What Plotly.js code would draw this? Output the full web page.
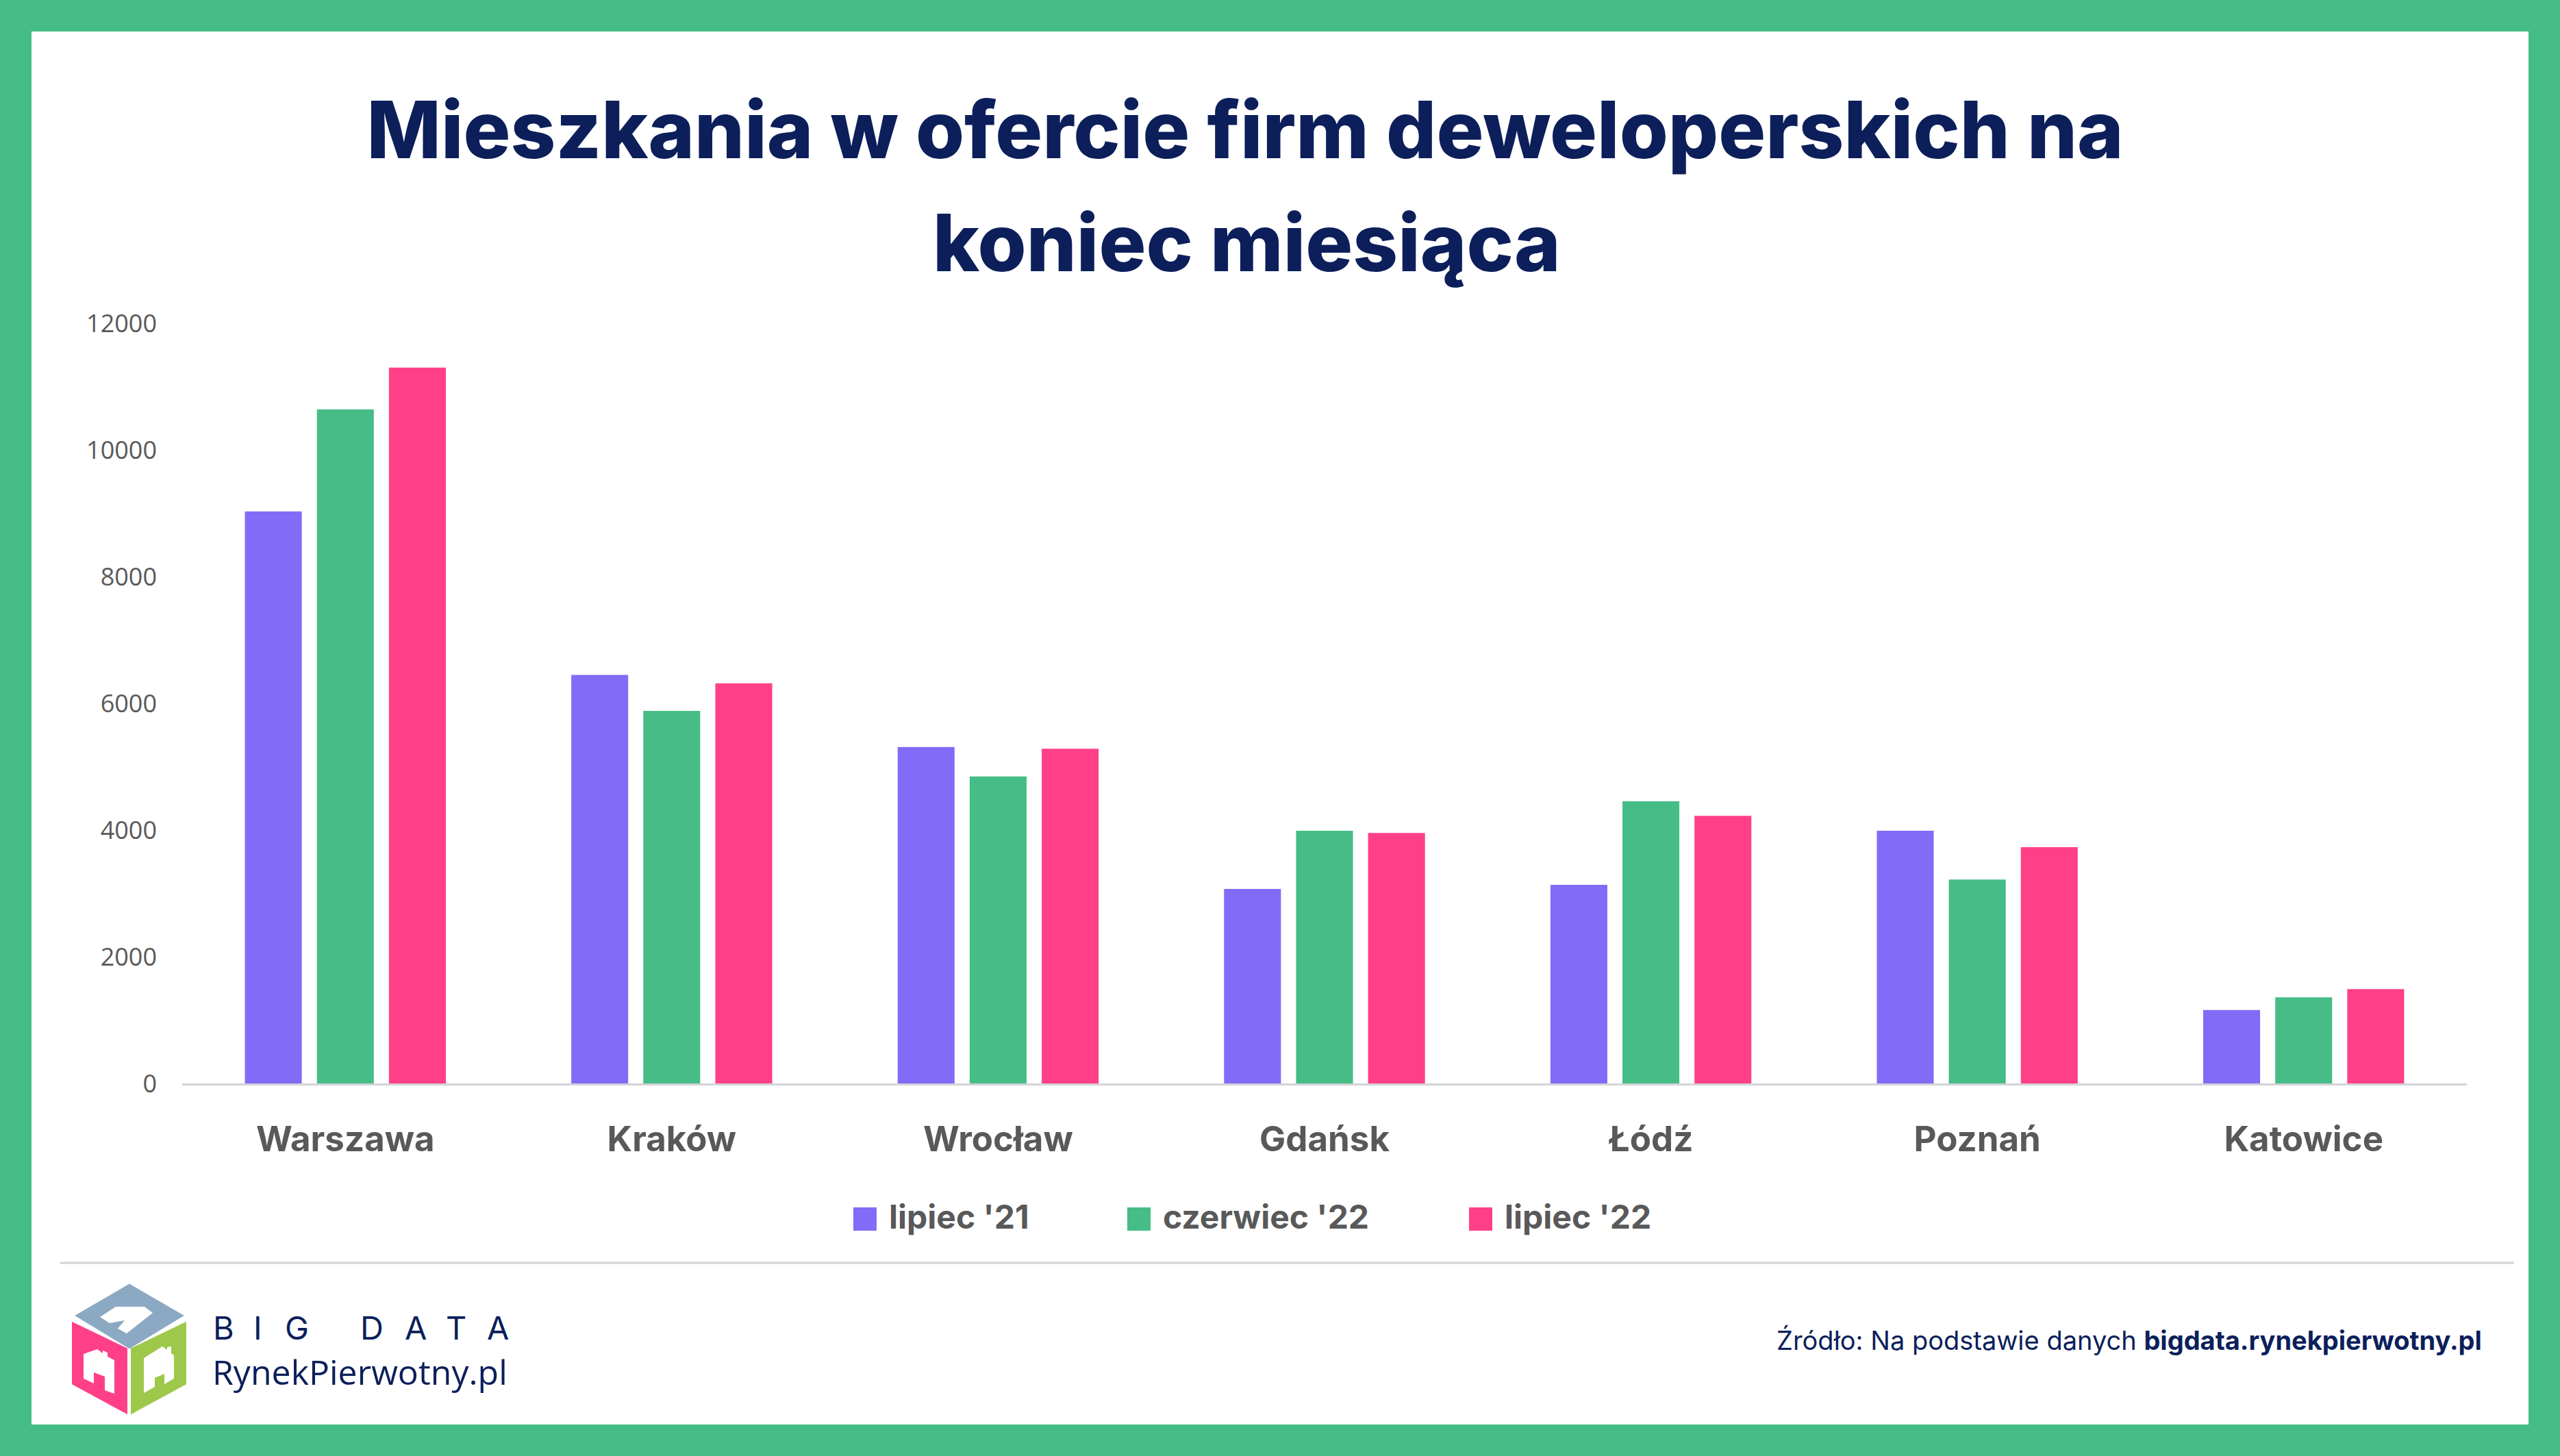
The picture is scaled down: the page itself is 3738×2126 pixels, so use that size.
<!DOCTYPE html>
<html>
<head>
<meta charset="utf-8">
<script src="https://cdn.plot.ly/plotly-3.0.1.min.js"></script>
<style>html,body{margin:0;padding:0;background:#46BD86;}#chart{width:3738px;height:2126px;}</style>
</head>
<body>
<div id="chart"></div>
<script>
// ---- data ----
const categories = ['Warszawa', 'Kraków', 'Wrocław', 'Gdańsk', 'Łódź', 'Poznań', 'Katowice'];
const seriesNames = ["lipiec '21", "czerwiec '22", "lipiec '22"];
const lipiec21 = [9030, 6450, 5310, 3070, 3135, 3990, 1160];
const czerwiec22 = [10640, 5880, 4845, 3990, 4455, 3220, 1360];
const lipiec22 = [11300, 6315, 5285, 3955, 4225, 3730, 1490];
const yTickValues = [0, 2000, 4000, 6000, 8000, 10000, 12000];
const titleLines = ['Mieszkania w ofercie firm deweloperskich na', 'koniec miesiąca'];
const sourceRegular = 'Źródło: Na podstawie danych ';
const sourceBold = 'bigdata.rynekpierwotny.pl';
const brandTop = 'BIG DATA';
const brandBottom = 'RynekPierwotny.pl';

// ---- styling / geometry ----
const colors = ['#826BF7', '#46BD86', '#FF4088'];
const navy = '#0C1F5B';
const grey = '#595959';
const W = 3738, H = 2126, ML = 266, MR = 136, MT = 472, MB = 544;
const PW = W - ML - MR, PH = H - MT - MB;
const px = x => (x - ML) / PW;
const py = y => (H - MB - y) / PH;
const pt = (x, y) => px(x).toFixed(5) + ',' + py(y).toFixed(5);
const poly = pts => 'M' + pts.map(p => pt(p[0], p[1])).join('L') + 'Z';

const seriesValues = [lipiec21, czerwiec22, lipiec22];
const traces = seriesValues.map((vals, i) => ({
  type: 'bar', x: categories, y: vals, name: seriesNames[i],
  marker: {color: colors[i]}, showlegend: false, hoverinfo: 'x+y+name'
}));

const shapes = [];
const annotations = [];

// white card inside green frame
shapes.push({type: 'rect', xref: 'paper', yref: 'paper', layer: 'below',
  x0: px(46), x1: px(3692), y0: py(2080), y1: py(46), fillcolor: '#FFFFFF', line: {width: 0}});
// separator line
shapes.push({type: 'line', xref: 'paper', yref: 'paper', x0: px(88), x1: px(3671), y0: py(1844), y1: py(1844),
  line: {color: '#D3D3D8', width: 3}});

// legend (custom, larger squares)
const legMarkX = [1246, 1646, 2145];
seriesNames.forEach((n, i) => {
  shapes.push({type: 'rect', xref: 'paper', yref: 'paper', x0: px(legMarkX[i]), x1: px(legMarkX[i] + 34),
    y0: py(1797), y1: py(1763), fillcolor: colors[i], line: {width: 0}});
  annotations.push({xref: 'paper', yref: 'paper', x: px(legMarkX[i] + 50), y: py(1776), xanchor: 'left', yanchor: 'middle',
    showarrow: false, text: n, font: {family: 'Inter', size: 48, color: grey, weight: 700}});
});

// title second line
annotations.push({xref: 'paper', yref: 'paper', x: px(1820), y: py(355), xanchor: 'center', yanchor: 'middle',
  showarrow: false, text: titleLines[1], font: {family: 'Inter', size: 115, color: navy, weight: 800}});

// source
annotations.push({xref: 'paper', yref: 'paper', x: px(3626), y: py(1957), xanchor: 'right', yanchor: 'middle',
  showarrow: false, text: sourceRegular + '<b>' + sourceBold + '</b>',
  font: {family: 'Inter', size: 38, color: navy}});

// brand text
const brandLetterX = [326, 376, 433, null, 543, 607, 666, 727];
brandTop.split('').forEach((ch, i) => {
  if (ch === ' ') return;
  annotations.push({xref: 'paper', yref: 'paper', x: px(brandLetterX[i]), y: py(1938), xanchor: 'center', yanchor: 'middle',
    showarrow: false, text: ch, font: {family: 'Inter', size: 47, color: navy, weight: 400}});
});
annotations.push({xref: 'paper', yref: 'paper', x: px(308), y: py(2003), xanchor: 'left', yanchor: 'middle',
  showarrow: false, text: brandBottom, font: {family: 'Open Sans', size: 50, color: navy}});

// logo cube
shapes.push({type: 'path', xref: 'paper', yref: 'paper', path: poly([[189,1878],[263,1921],[189,1966],[115,1921]]),
  fillcolor: '#8BA9C2', line: {color: '#8BA9C2', width: 6}});
shapes.push({type: 'path', xref: 'paper', yref: 'paper', path: poly([[107,1933],[184,1970],[184,2062],[107,2020]]),
  fillcolor: '#FF4088', line: {color: '#FF4088', width: 4}});
shapes.push({type: 'path', xref: 'paper', yref: 'paper', path: poly([[193,1970],[270,1933],[270,2020],[193,2062]]),
  fillcolor: '#9DC84A', line: {color: '#9DC84A', width: 4}});
// house cut-outs
shapes.push({type: 'path', xref: 'paper', yref: 'paper',
  path: poly([[146,1923],[169,1908],[211,1908],[223,1917],[185,1947],[172,1940],[182,1928],[160,1932]]),
  fillcolor: '#FFFFFF', line: {width: 0}});
shapes.push({type: 'path', xref: 'paper', yref: 'paper',
  path: poly([[122,1977],[142,1970],[150,1976],[150,1972],[157,1975],[157,1981],[167,1986],[167,2035],[153,2030],[153,2010],[137,2004],[137,2020],[122,2013]]),
  fillcolor: '#FFFFFF', line: {width: 0}});
shapes.push({type: 'path', xref: 'paper', yref: 'paper',
  path: poly([[210,1983],[237,1966],[244,1971],[244,1967],[250,1966],[250,1976],[254,1979],[254,2013],[240,2021],[240,2006],[226,2012],[226,2025],[210,2034]]),
  fillcolor: '#FFFFFF', line: {width: 0}});

const layout = {
  width: W, height: H,
  margin: {l: ML, r: MR, t: MT, b: MB, pad: 0},
  paper_bgcolor: '#46BD86',
  plot_bgcolor: 'rgba(0,0,0,0)',
  title: {text: titleLines[0], xref: 'container', yref: 'container', x: 1818 / W, xanchor: 'center',
    y: 1 - 191 / H, yanchor: 'middle', font: {family: 'Inter', size: 115, color: navy, weight: 800}},
  barmode: 'group', bargap: 0.338, bargroupgap: 0.21,
  showlegend: false,
  xaxis: {type: 'category', showline: true, linecolor: '#D3D3D8', linewidth: 3, showgrid: false, zeroline: false,
    ticks: '', ticklabelstandoff: 35, tickfont: {family: 'Inter', size: 51, color: grey, weight: 700}},
  yaxis: {range: [0, 12000], tickvals: yTickValues, ticktext: yTickValues.map(String), showgrid: false, zeroline: false,
    showline: false, ticks: '', ticklabelstandoff: 36, tickfont: {family: 'Open Sans', size: 36, color: grey}},
  shapes: shapes,
  annotations: annotations,
  font: {family: 'Inter'}
};

Plotly.newPlot('chart', traces, layout, {displayModeBar: false, responsive: false, staticPlot: true});
</script>
</body>
</html>
